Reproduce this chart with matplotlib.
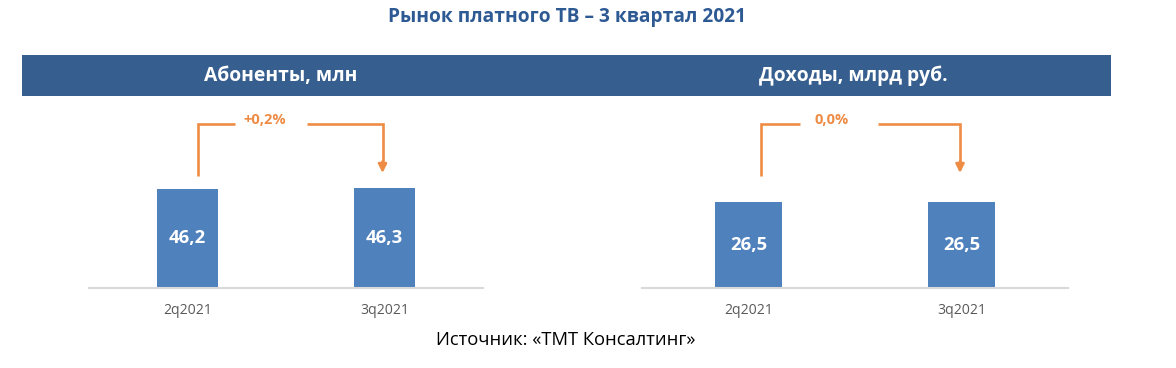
import matplotlib
matplotlib.use('Agg')
import matplotlib.pyplot as plt
from matplotlib.patches import Rectangle

plt.rcParams['font.family'] = ['Open Sans', 'DejaVu Sans']

# data
quarters = ['2q2021', '3q2021']
subscribers = [46.2, 46.3]      # mln
revenue = [26.5, 26.5]          # bln rub
subs_change = '+0,2%'
rev_change = '0,0%'
panel_titles = ['Абоненты, млн', 'Доходы, млрд руб.']
title = 'Рынок платного ТВ – 3 квартал 2021'
source = 'Источник: «ТМТ Консалтинг»'

W, H = 1176, 368
bar_color = '#4f81bd'
band_color = '#365f8f'
orange = '#ee8c45'

fig = plt.figure(figsize=(W / 100, H / 100), dpi=100)

def box(x0, y0, x1, y1):  # pixel box -> figure fraction [l, b, w, h]
    return [x0 / W, 1 - y1 / H, (x1 - x0) / W, (y1 - y0) / H]

# title and header band
fig.text(567 / W, 1 - 17 / H, title, ha='center', va='center',
         fontsize=13.8, fontweight='bold', color='#2e5a94')
fig.add_artist(Rectangle((22 / W, 1 - 96 / H), (1111 - 22) / W, 41 / H,
                         transform=fig.transFigure, color=band_color, lw=0))
fig.text(281 / W, 1 - 76 / H, panel_titles[0], ha='center', va='center',
         fontsize=13.9, fontweight='bold', color='white')
fig.text(853 / W, 1 - 76 / H, panel_titles[1], ha='center', va='center',
         fontsize=13.9, fontweight='bold', color='white')
fig.text(566 / W, 1 - 340 / H, source, ha='center', va='center',
         fontsize=13.2, color='black')


def panel(ax, values, change, ytop, bar_w, vl, vr):
    x = range(len(values))
    ax.bar(x, values, width=bar_w, color=bar_color, zorder=2)
    for i, v in zip(x, values):
        ax.text(i, v / 2, f'{v:.1f}'.replace('.', ','), ha='center', va='center',
                color='white', fontsize=13.3, fontweight='bold')
    ax.set_xlim(-0.5, 1.5)
    ax.set_ylim(0, ytop)
    ax.set_xticks(list(x))
    ax.set_xticklabels(quarters, fontsize=10.1, color='#595959')
    ax.tick_params(axis='x', length=0, pad=11)
    ax.set_yticks([])
    for s in ['top', 'right', 'left']:
        ax.spines[s].set_visible(False)
    ax.spines['bottom'].set_color('#d9d9d9')
    ax.spines['bottom'].set_linewidth(1.5)

    # change connector (x in data, y in axes fraction)
    tr = ax.get_xaxis_transform()
    ax.plot([vl, vl, 0.241], [0.63, 0.921, 0.921], color=orange, lw=1.9,
            transform=tr, solid_capstyle='butt', solid_joinstyle='miter')
    ax.plot([0.607, vr, vr], [0.921, 0.921, 0.70], color=orange, lw=1.9,
            transform=tr, solid_capstyle='butt', solid_joinstyle='miter')
    ax.annotate('', xy=(vr, 0.645), xytext=(vr, 0.71), xycoords=tr, textcoords=tr,
                arrowprops=dict(arrowstyle='-|>,head_length=0.5,head_width=0.25',
                                color=orange, lw=1.9, shrinkA=0, shrinkB=0))
    ax.text(0.39, 0.944, change, transform=tr, ha='center', va='center',
            color=orange, fontsize=10.5, fontweight='bold')


ax1 = fig.add_axes(box(89, 110, 483, 287.5))
panel(ax1, subscribers, subs_change, 177.5 / 99 * 46.2, 0.31, 0.053, 0.99)

ax2 = fig.add_axes(box(642, 110, 1068, 287.5))
panel(ax2, revenue, rev_change, 177.5 / 86 * 26.5, 0.315, 0.059, 0.993)

fig.savefig('out.png', dpi=100)
